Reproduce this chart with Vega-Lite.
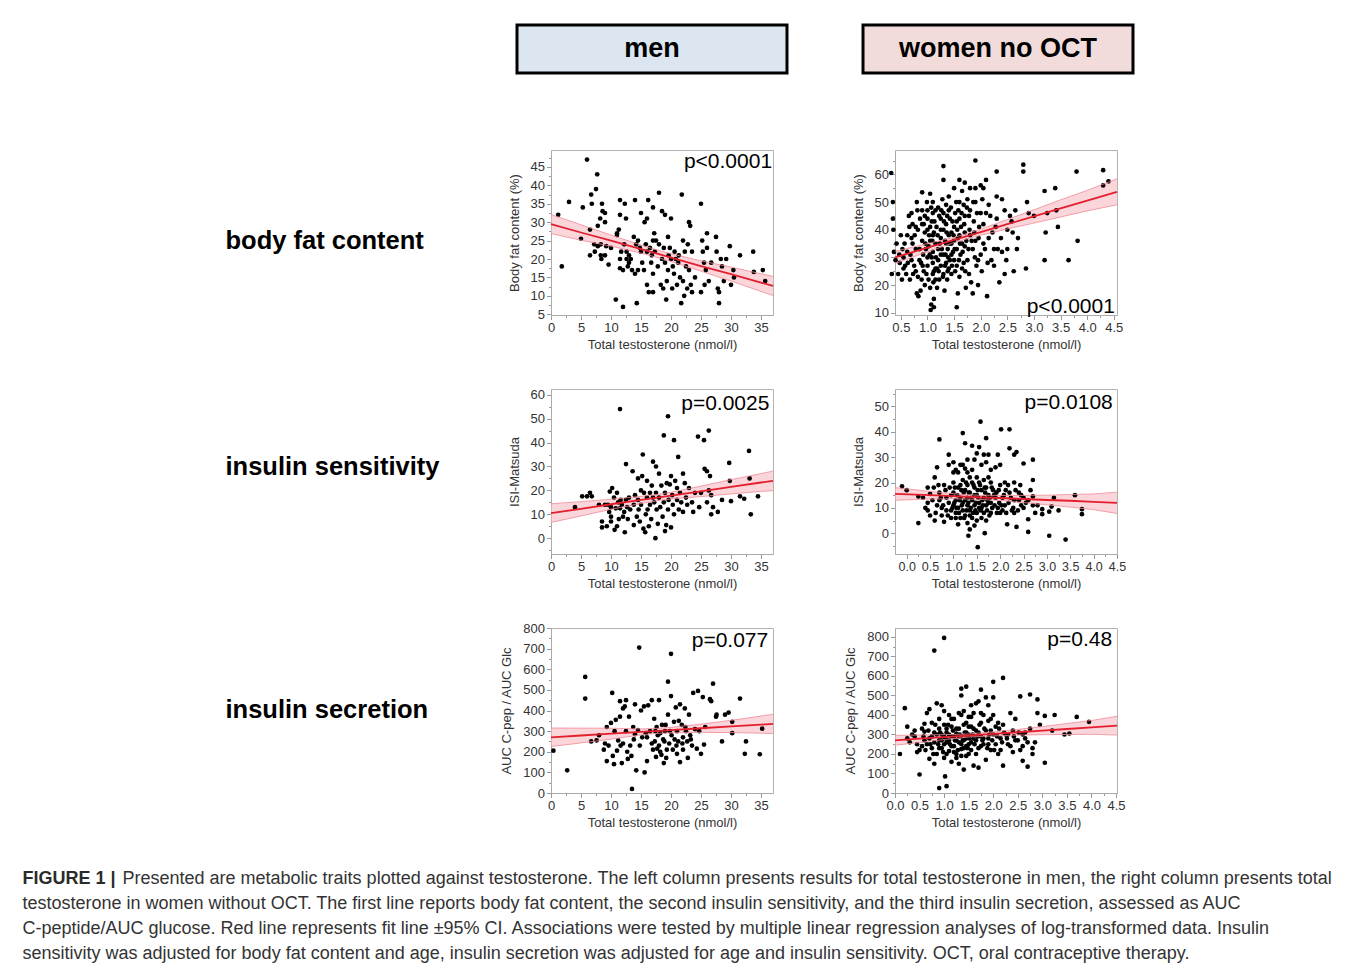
{
  "$schema": "https://vega.github.io/schema/vega-lite/v6.json",
  "padding": {"left": 22, "top": 23, "right": 4, "bottom": 2},
  "background": "white",
  "config": {
    "view": {"stroke": null},
    "font": "Liberation Sans",
    "text": {"font": "Liberation Sans"},
    "axis": {"labelFont": "Liberation Sans", "titleFont": "Liberation Sans", "labelFontSize": 13, "titleFontSize": 13, "titleFontWeight": "normal", "labelColor": "#333", "titleColor": "#333", "tickColor": "#999", "domainColor": "#aaa", "tickSize": 4.5, "labelPadding": 2, "grid": false, "labelOverlap": false, "labelFlush": false},
    "axisY": {"titlePadding": 9}
  },
  "datasets": {
    "p_mbf": [{"x":1.2,"y":32},{"x":1.8,"y":18},{"x":3,"y":35.5},{"x":5,"y":25.5},{"x":5.3,"y":34},{"x":6,"y":47},{"x":6.5,"y":28},{"x":6.7,"y":37.5},{"x":6.8,"y":35},{"x":6.5,"y":21},{"x":7.2,"y":24},{"x":7.3,"y":22},{"x":7.5,"y":39},{"x":7.7,"y":43},{"x":7.8,"y":29},{"x":7.8,"y":23.5},{"x":8.2,"y":31},{"x":8.3,"y":24},{"x":8.3,"y":21},{"x":8.4,"y":20},{"x":8.5,"y":35},{"x":8.6,"y":33},{"x":9,"y":32.5},{"x":9,"y":30},{"x":9,"y":21},{"x":9.2,"y":23.5},{"x":9.6,"y":18.5},{"x":10,"y":23},{"x":10.8,"y":9},{"x":11,"y":27},{"x":11,"y":26.5},{"x":11.3,"y":28},{"x":11.5,"y":36},{"x":11.5,"y":32},{"x":11.5,"y":17.5},{"x":11.5,"y":20},{"x":11.7,"y":22},{"x":12,"y":17},{"x":12,"y":7},{"x":12.2,"y":24},{"x":12.3,"y":35},{"x":12.5,"y":31},{"x":12.6,"y":22},{"x":12.6,"y":20},{"x":12.8,"y":18},{"x":13,"y":19},{"x":13,"y":21},{"x":13.3,"y":20},{"x":13.5,"y":17},{"x":13.8,"y":26},{"x":14,"y":36},{"x":14,"y":16},{"x":14.2,"y":24},{"x":14.3,"y":8},{"x":14.5,"y":25},{"x":14.5,"y":17},{"x":14.8,"y":23},{"x":15,"y":32.5},{"x":15,"y":22},{"x":15.2,"y":19},{"x":15.5,"y":17},{"x":15.6,"y":30},{"x":15.8,"y":24},{"x":16,"y":31},{"x":16,"y":22},{"x":16,"y":13},{"x":16.2,"y":36},{"x":16.3,"y":11},{"x":16.5,"y":23},{"x":16.7,"y":19},{"x":16.8,"y":21},{"x":17,"y":34},{"x":17,"y":25},{"x":17,"y":11},{"x":17,"y":16},{"x":17.2,"y":27},{"x":17.3,"y":22},{"x":17.5,"y":25},{"x":17.8,"y":18},{"x":18,"y":38},{"x":18,"y":24},{"x":18.3,"y":13},{"x":18.5,"y":33},{"x":18.5,"y":20},{"x":18.7,"y":12},{"x":18.8,"y":23},{"x":19,"y":32},{"x":19,"y":19},{"x":19.2,"y":9},{"x":19.3,"y":14},{"x":19.5,"y":26},{"x":19.5,"y":17},{"x":19.6,"y":21},{"x":19.8,"y":23},{"x":20,"y":31},{"x":20,"y":20},{"x":20.2,"y":12},{"x":20.3,"y":18},{"x":20.5,"y":16},{"x":20.6,"y":22},{"x":20.8,"y":20},{"x":21,"y":13},{"x":21.2,"y":19},{"x":21.3,"y":21},{"x":21.5,"y":15},{"x":21.7,"y":8},{"x":21.8,"y":37.5},{"x":22,"y":25},{"x":22,"y":14},{"x":22.2,"y":10},{"x":22.3,"y":22},{"x":22.5,"y":18},{"x":22.7,"y":12},{"x":22.8,"y":24},{"x":23,"y":30},{"x":23,"y":17},{"x":23.2,"y":29},{"x":23.3,"y":13},{"x":23.5,"y":11},{"x":23.5,"y":22},{"x":24,"y":15},{"x":25,"y":35},{"x":25,"y":11},{"x":25.2,"y":25},{"x":25.3,"y":22},{"x":25.5,"y":19},{"x":25.6,"y":13},{"x":25.8,"y":17},{"x":26,"y":27},{"x":26,"y":23},{"x":26.3,"y":14},{"x":26.7,"y":19},{"x":27.5,"y":26},{"x":27.6,"y":22},{"x":27.8,"y":12},{"x":28,"y":8},{"x":28,"y":11},{"x":28.3,"y":20},{"x":28.5,"y":18},{"x":28.8,"y":14},{"x":29.2,"y":20},{"x":29.8,"y":23.5},{"x":30,"y":13},{"x":30.4,"y":17},{"x":30.5,"y":15},{"x":31.5,"y":21},{"x":33.7,"y":22},{"x":33.8,"y":16.5},{"x":35.3,"y":17},{"x":35.7,"y":14}],
    "f_mbf": [{"x":0,"fit":29.5,"lo":26.9,"hi":32.1},{"x":5,"fit":27.2,"lo":25.1,"hi":29.3},{"x":10,"fit":25.0,"lo":23.5,"hi":26.5},{"x":15,"fit":22.7,"lo":21.6,"hi":23.8},{"x":18,"fit":21.3,"lo":20.3,"hi":22.3},{"x":20,"fit":20.4,"lo":19.35,"hi":21.45},{"x":25,"fit":18.1,"lo":16.7,"hi":19.5},{"x":30,"fit":15.9,"lo":14.0,"hi":17.8},{"x":35,"fit":13.6,"lo":11.2,"hi":16.0},{"x":37,"fit":12.7,"lo":10.1,"hi":15.3}],
    "p_wbf": [{"x":0.32,"y":60.5},{"x":0.35,"y":50},{"x":0.35,"y":44},{"x":0.36,"y":40},{"x":0.37,"y":32},{"x":0.33,"y":24},{"x":0.4,"y":29},{"x":0.45,"y":24},{"x":0.48,"y":28},{"x":0.5,"y":38},{"x":0.52,"y":22},{"x":0.55,"y":26},{"x":0.55,"y":30},{"x":0.6,"y":24},{"x":0.62,"y":32},{"x":0.65,"y":45},{"x":0.67,"y":22},{"x":0.7,"y":46},{"x":0.7,"y":37},{"x":0.7,"y":29},{"x":0.72,"y":35},{"x":0.75,"y":27},{"x":0.78,"y":41},{"x":0.78,"y":25},{"x":0.8,"y":50},{"x":0.8,"y":17},{"x":0.82,"y":40},{"x":0.82,"y":23},{"x":0.83,"y":16},{"x":0.85,"y":33},{"x":0.85,"y":29},{"x":0.87,"y":18},{"x":0.9,"y":53.5},{"x":0.9,"y":47},{"x":0.9,"y":42},{"x":0.9,"y":36},{"x":0.92,"y":31},{"x":0.93,"y":25},{"x":0.95,"y":20},{"x":0.95,"y":39},{"x":0.97,"y":33},{"x":1.0,"y":47},{"x":1.0,"y":44},{"x":1.0,"y":40},{"x":1.0,"y":30},{"x":1.0,"y":27},{"x":1.02,"y":22},{"x":1.05,"y":53},{"x":1.05,"y":36},{"x":1.05,"y":19},{"x":1.06,"y":11},{"x":1.07,"y":13},{"x":1.08,"y":43},{"x":1.1,"y":50},{"x":1.1,"y":46},{"x":1.1,"y":38},{"x":1.1,"y":32},{"x":1.1,"y":28},{"x":1.1,"y":24},{"x":1.12,"y":15},{"x":1.12,"y":12},{"x":1.15,"y":35},{"x":1.15,"y":26},{"x":1.17,"y":41},{"x":1.18,"y":19},{"x":1.2,"y":48},{"x":1.2,"y":33},{"x":1.2,"y":29},{"x":1.22,"y":22},{"x":1.25,"y":37},{"x":1.25,"y":44},{"x":1.25,"y":27},{"x":1.28,"y":51},{"x":1.3,"y":63},{"x":1.3,"y":58},{"x":1.3,"y":46},{"x":1.3,"y":40},{"x":1.3,"y":31},{"x":1.3,"y":24},{"x":1.32,"y":18},{"x":1.33,"y":36},{"x":1.35,"y":49},{"x":1.35,"y":42},{"x":1.35,"y":28},{"x":1.37,"y":22},{"x":1.38,"y":33},{"x":1.4,"y":52},{"x":1.4,"y":47},{"x":1.4,"y":38},{"x":1.4,"y":26},{"x":1.42,"y":44},{"x":1.45,"y":31},{"x":1.45,"y":35},{"x":1.45,"y":24},{"x":1.5,"y":55},{"x":1.5,"y":41},{"x":1.5,"y":36},{"x":1.5,"y":29},{"x":1.52,"y":46},{"x":1.55,"y":33},{"x":1.55,"y":27},{"x":1.55,"y":12},{"x":1.57,"y":17},{"x":1.6,"y":58},{"x":1.6,"y":50},{"x":1.6,"y":44},{"x":1.6,"y":38},{"x":1.6,"y":23},{"x":1.62,"y":31},{"x":1.65,"y":54},{"x":1.65,"y":26},{"x":1.7,"y":57},{"x":1.7,"y":45},{"x":1.7,"y":39},{"x":1.7,"y":34},{"x":1.72,"y":19},{"x":1.75,"y":29},{"x":1.75,"y":51},{"x":1.78,"y":24},{"x":1.8,"y":55},{"x":1.8,"y":47},{"x":1.8,"y":38},{"x":1.82,"y":21},{"x":1.85,"y":17},{"x":1.85,"y":33},{"x":1.87,"y":43},{"x":1.9,"y":65},{"x":1.9,"y":55},{"x":1.9,"y":50},{"x":1.9,"y":36},{"x":1.92,"y":27},{"x":1.95,"y":20},{"x":1.97,"y":41},{"x":2.0,"y":56},{"x":2.0,"y":46},{"x":2.0,"y":31},{"x":2.02,"y":25},{"x":2.05,"y":55},{"x":2.05,"y":35},{"x":2.1,"y":58},{"x":2.1,"y":46},{"x":2.12,"y":16},{"x":2.15,"y":37},{"x":2.2,"y":29},{"x":2.22,"y":39},{"x":2.25,"y":27},{"x":2.3,"y":61},{"x":2.3,"y":52},{"x":2.3,"y":44},{"x":2.32,"y":33},{"x":2.35,"y":21},{"x":2.4,"y":51},{"x":2.4,"y":32},{"x":2.45,"y":47},{"x":2.45,"y":24},{"x":2.5,"y":40},{"x":2.5,"y":33},{"x":2.55,"y":45},{"x":2.6,"y":39},{"x":2.62,"y":25},{"x":2.65,"y":47},{"x":2.7,"y":37},{"x":2.8,"y":63.5},{"x":2.8,"y":61},{"x":2.85,"y":26},{"x":2.87,"y":50},{"x":2.9,"y":46},{"x":3.0,"y":45},{"x":3.2,"y":54},{"x":3.2,"y":29},{"x":3.22,"y":39},{"x":3.25,"y":46},{"x":3.4,"y":55},{"x":3.42,"y":47},{"x":3.45,"y":41},{"x":3.65,"y":29},{"x":3.8,"y":61},{"x":3.82,"y":36},{"x":4.3,"y":61.5},{"x":4.3,"y":56},{"x":4.4,"y":57.5},{"x":1.02,"y":34},{"x":1.08,"y":30},{"x":1.12,"y":39},{"x":1.18,"y":26},{"x":1.22,"y":45},{"x":1.27,"y":33},{"x":1.33,"y":27},{"x":1.36,"y":39},{"x":1.42,"y":29},{"x":1.47,"y":43},{"x":1.52,"y":25},{"x":1.57,"y":37},{"x":1.63,"y":41},{"x":1.68,"y":28},{"x":1.73,"y":36},{"x":1.78,"y":45},{"x":0.98,"y":24},{"x":0.88,"y":28},{"x":0.78,"y":33},{"x":0.68,"y":31},{"x":0.58,"y":27},{"x":1.15,"y":22},{"x":1.25,"y":31},{"x":1.35,"y":35},{"x":1.45,"y":39},{"x":1.55,"y":43},{"x":1.65,"y":35},{"x":1.25,"y":40},{"x":1.05,"y":41},{"x":1.15,"y":47},{"x":0.95,"y":45},{"x":1.38,"y":25},{"x":1.48,"y":32},{"x":1.58,"y":47},{"x":1.68,"y":49},{"x":1.88,"y":39},{"x":1.95,"y":29},{"x":2.05,"y":42},{"x":2.15,"y":49},{"x":2.25,"y":33},{"x":1.12,"y":25},{"x":0.62,"y":38},{"x":0.53,"y":33},{"x":0.72,"y":42},{"x":0.42,"y":35},{"x":0.47,"y":31},{"x":0.57,"y":35},{"x":0.63,"y":28},{"x":0.66,"y":41},{"x":0.73,"y":24},{"x":0.76,"y":38},{"x":0.86,"y":44},{"x":0.89,"y":22},{"x":0.91,"y":27},{"x":0.96,"y":35},{"x":0.99,"y":50},{"x":1.03,"y":38},{"x":1.04,"y":31},{"x":1.09,"y":36},{"x":1.11,"y":21},{"x":1.13,"y":43},{"x":1.16,"y":30},{"x":1.19,"y":38},{"x":1.21,"y":25},{"x":1.23,"y":35},{"x":1.26,"y":47},{"x":1.29,"y":23},{"x":1.31,"y":43},{"x":1.34,"y":31},{"x":1.37,"y":45},{"x":1.39,"y":30},{"x":1.41,"y":35},{"x":1.44,"y":48},{"x":1.46,"y":27},{"x":1.49,"y":38},{"x":1.51,"y":33},{"x":1.54,"y":50},{"x":1.56,"y":40},{"x":1.59,"y":29},{"x":1.61,"y":35},{"x":1.64,"y":46},{"x":1.66,"y":32},{"x":1.69,"y":42},{"x":1.71,"y":25},{"x":1.74,"y":48},{"x":1.77,"y":33},{"x":1.79,"y":40},{"x":1.83,"y":36},{"x":1.86,"y":50},{"x":1.89,"y":30},{"x":1.93,"y":46},{"x":1.96,"y":37},{"x":2.03,"y":51},{"x":2.08,"y":33},{"x":2.13,"y":28},{"x":2.18,"y":45},{"x":2.28,"y":41},{"x":2.38,"y":37},{"x":2.48,"y":29},{"x":2.58,"y":43},{"x":2.68,"y":33},{"x":0.81,"y":47},{"x":0.93,"y":42},{"x":1.07,"y":48}],
    "f_wbf": [{"x":0.39,"fit":30.0,"lo":27.8,"hi":32.2},{"x":1.0,"fit":33.5,"lo":32.0,"hi":35.0},{"x":1.5,"fit":36.3,"lo":35.4,"hi":37.2},{"x":2.0,"fit":39.1,"lo":38.0,"hi":40.2},{"x":2.5,"fit":42.0,"lo":40.3,"hi":43.7},{"x":3.0,"fit":44.8,"lo":42.4,"hi":47.2},{"x":3.5,"fit":47.7,"lo":44.6,"hi":50.8},{"x":4.0,"fit":50.5,"lo":46.8,"hi":54.2},{"x":4.56,"fit":53.7,"lo":49.0,"hi":58.4}],
    "p_mis": [{"x":4,"y":13},{"x":5.2,"y":17.5},{"x":6,"y":17.5},{"x":6.5,"y":19},{"x":6.8,"y":17.5},{"x":8,"y":14},{"x":8.5,"y":7},{"x":8.5,"y":4.5},{"x":9,"y":14},{"x":9.3,"y":5},{"x":9.5,"y":14},{"x":9.7,"y":11},{"x":9.8,"y":19.5},{"x":10,"y":7},{"x":10,"y":9},{"x":10,"y":13},{"x":10.2,"y":21},{"x":10.5,"y":17},{"x":10.6,"y":3.5},{"x":10.8,"y":12.5},{"x":11,"y":19},{"x":11,"y":5},{"x":11.2,"y":15},{"x":11.3,"y":8},{"x":11.5,"y":54},{"x":11.5,"y":12.5},{"x":11.6,"y":16},{"x":11.8,"y":14},{"x":12,"y":9},{"x":12.2,"y":11},{"x":12.3,"y":2.5},{"x":12.5,"y":31},{"x":12.5,"y":16},{"x":12.7,"y":13},{"x":12.8,"y":8},{"x":13,"y":17},{"x":13.2,"y":12},{"x":13.6,"y":28},{"x":13.8,"y":14},{"x":13.8,"y":5.5},{"x":14,"y":18},{"x":14.3,"y":9},{"x":14.5,"y":25},{"x":14.5,"y":16},{"x":14.6,"y":12},{"x":14.8,"y":7},{"x":15,"y":20},{"x":15,"y":14},{"x":15.2,"y":26},{"x":15.3,"y":35},{"x":15.4,"y":4},{"x":15.5,"y":19},{"x":15.7,"y":2.5},{"x":15.8,"y":10},{"x":16,"y":24},{"x":16,"y":17},{"x":16.1,"y":12},{"x":16.3,"y":5},{"x":16.5,"y":19},{"x":16.5,"y":14},{"x":16.7,"y":8},{"x":16.8,"y":22},{"x":17,"y":32},{"x":17,"y":17},{"x":17.2,"y":15},{"x":17.4,"y":0},{"x":17.5,"y":30},{"x":17.5,"y":19},{"x":17.6,"y":12},{"x":17.8,"y":6},{"x":18,"y":27},{"x":18,"y":17},{"x":18.2,"y":13},{"x":18.4,"y":22},{"x":18.6,"y":9},{"x":18.8,"y":43},{"x":18.8,"y":15},{"x":19,"y":3},{"x":19,"y":19},{"x":19.2,"y":5.5},{"x":19.3,"y":23},{"x":19.5,"y":51},{"x":19.5,"y":12},{"x":19.6,"y":16},{"x":19.8,"y":22.5},{"x":20,"y":26},{"x":20,"y":4.5},{"x":20.2,"y":18},{"x":20.3,"y":14},{"x":20.5,"y":41},{"x":20.5,"y":10},{"x":20.7,"y":24},{"x":21,"y":21},{"x":21,"y":16},{"x":21.2,"y":34},{"x":21.3,"y":12},{"x":21.5,"y":19},{"x":21.7,"y":15},{"x":22,"y":27},{"x":22,"y":11},{"x":22.3,"y":23},{"x":22.5,"y":17},{"x":22.7,"y":14},{"x":23,"y":21},{"x":23.5,"y":15},{"x":23.7,"y":11},{"x":24,"y":19},{"x":24.5,"y":42.5},{"x":24.7,"y":13},{"x":25,"y":19},{"x":25.5,"y":41},{"x":25.6,"y":29},{"x":26,"y":28},{"x":26,"y":15},{"x":26.3,"y":45},{"x":26.3,"y":20},{"x":26.5,"y":26},{"x":26.7,"y":18},{"x":26.7,"y":10},{"x":27,"y":13},{"x":27.8,"y":11},{"x":28.5,"y":16},{"x":29.7,"y":31.5},{"x":29.8,"y":24},{"x":30,"y":15.5},{"x":31.5,"y":17.5},{"x":32.2,"y":16.5},{"x":33,"y":36.5},{"x":33.1,"y":25},{"x":33.3,"y":10},{"x":34.5,"y":17.5}],
    "f_mis": [{"x":0,"fit":10.5,"lo":6.6,"hi":14.4},{"x":5,"fit":12.3,"lo":9.3,"hi":15.3},{"x":10,"fit":14.2,"lo":12.1,"hi":16.3},{"x":15,"fit":16.0,"lo":14.5,"hi":17.5},{"x":18,"fit":17.1,"lo":15.8,"hi":18.4},{"x":20,"fit":17.8,"lo":16.4,"hi":19.2},{"x":25,"fit":19.6,"lo":17.4,"hi":21.8},{"x":30,"fit":21.5,"lo":18.5,"hi":24.5},{"x":35,"fit":23.3,"lo":19.6,"hi":27.0},{"x":37,"fit":24.0,"lo":19.9,"hi":28.1}],
    "p_wis": [{"x":-0.1,"y":18.5},{"x":0,"y":17},{"x":0.25,"y":14.5},{"x":0.25,"y":4},{"x":0.45,"y":18},{"x":0.45,"y":12},{"x":0.45,"y":9},{"x":0.5,"y":15.5},{"x":0.5,"y":7},{"x":0.6,"y":22},{"x":0.6,"y":5},{"x":0.65,"y":26},{"x":0.7,"y":37},{"x":0.7,"y":16},{"x":0.7,"y":13},{"x":0.75,"y":10},{"x":0.75,"y":7},{"x":0.8,"y":4.5},{"x":0.8,"y":19},{"x":0.85,"y":14},{"x":0.9,"y":27},{"x":0.9,"y":31},{"x":0.9,"y":12},{"x":0.95,"y":9},{"x":0.95,"y":6},{"x":1.0,"y":28},{"x":1.0,"y":20},{"x":1.0,"y":16},{"x":1.0,"y":11},{"x":1.05,"y":25},{"x":1.05,"y":13},{"x":1.05,"y":8},{"x":1.1,"y":24},{"x":1.1,"y":18},{"x":1.1,"y":10},{"x":1.1,"y":3.5},{"x":1.15,"y":27},{"x":1.15,"y":14},{"x":1.15,"y":6},{"x":1.2,"y":39.5},{"x":1.2,"y":21},{"x":1.2,"y":12},{"x":1.2,"y":9},{"x":1.25,"y":35.5},{"x":1.25,"y":17},{"x":1.25,"y":25.5},{"x":1.25,"y":7},{"x":1.3,"y":29},{"x":1.3,"y":19},{"x":1.3,"y":14},{"x":1.3,"y":11},{"x":1.3,"y":4},{"x":1.32,"y":-1},{"x":1.35,"y":22},{"x":1.35,"y":16},{"x":1.35,"y":9},{"x":1.35,"y":1.5},{"x":1.4,"y":34.5},{"x":1.4,"y":20},{"x":1.4,"y":13},{"x":1.4,"y":6},{"x":1.45,"y":29},{"x":1.45,"y":18},{"x":1.45,"y":11},{"x":1.45,"y":3},{"x":1.5,"y":31.5},{"x":1.5,"y":22},{"x":1.5,"y":15},{"x":1.5,"y":8},{"x":1.5,"y":5},{"x":1.52,"y":-5.5},{"x":1.55,"y":34},{"x":1.55,"y":20},{"x":1.55,"y":12},{"x":1.58,"y":44},{"x":1.6,"y":17},{"x":1.6,"y":10},{"x":1.6,"y":6},{"x":1.65,"y":31},{"x":1.65,"y":21},{"x":1.65,"y":14},{"x":1.67,"y":0},{"x":1.7,"y":37.5},{"x":1.7,"y":18},{"x":1.7,"y":11},{"x":1.7,"y":5},{"x":1.75,"y":31},{"x":1.75,"y":22},{"x":1.75,"y":15},{"x":1.8,"y":20},{"x":1.8,"y":12},{"x":1.8,"y":8},{"x":1.85,"y":17},{"x":1.9,"y":26},{"x":1.9,"y":14},{"x":1.95,"y":31},{"x":1.95,"y":10},{"x":2.0,"y":19},{"x":2.0,"y":8},{"x":2.02,"y":41},{"x":2.05,"y":14},{"x":2.1,"y":20},{"x":2.1,"y":11},{"x":2.15,"y":3.5},{"x":2.2,"y":41},{"x":2.2,"y":33.5},{"x":2.2,"y":16},{"x":2.25,"y":9},{"x":2.3,"y":31},{"x":2.3,"y":20},{"x":2.3,"y":13},{"x":2.35,"y":2.5},{"x":2.35,"y":32},{"x":2.4,"y":16},{"x":2.45,"y":11},{"x":2.45,"y":15},{"x":2.5,"y":27.5},{"x":2.5,"y":14},{"x":2.6,"y":13},{"x":2.6,"y":5.5},{"x":2.6,"y":0.5},{"x":2.7,"y":29},{"x":2.7,"y":21},{"x":2.7,"y":14.5},{"x":2.7,"y":11},{"x":2.75,"y":8},{"x":2.8,"y":11},{"x":2.9,"y":9.5},{"x":2.9,"y":7.5},{"x":3.05,"y":8.5},{"x":3.05,"y":-1},{"x":3.1,"y":10.5},{"x":3.15,"y":14},{"x":3.25,"y":9},{"x":3.4,"y":-2.5},{"x":3.6,"y":15},{"x":3.75,"y":9.5},{"x":3.75,"y":7.5},{"x":1.02,"y":12},{"x":1.08,"y":15},{"x":1.12,"y":8},{"x":1.18,"y":11},{"x":1.22,"y":16},{"x":1.28,"y":9},{"x":1.32,"y":12},{"x":1.38,"y":14},{"x":1.42,"y":8},{"x":1.48,"y":12},{"x":1.52,"y":17},{"x":1.58,"y":9},{"x":1.62,"y":13},{"x":1.68,"y":16},{"x":1.72,"y":9},{"x":1.78,"y":14},{"x":1.82,"y":18},{"x":1.88,"y":11},{"x":1.92,"y":16},{"x":1.98,"y":12},{"x":2.05,"y":9},{"x":2.12,"y":17},{"x":2.18,"y":12},{"x":1.15,"y":19},{"x":1.25,"y":13},{"x":1.35,"y":7},{"x":1.45,"y":15},{"x":1.55,"y":10},{"x":1.65,"y":8},{"x":1.75,"y":12},{"x":0.85,"y":9},{"x":0.95,"y":15},{"x":0.65,"y":11},{"x":0.55,"y":13},{"x":2.4,"y":13},{"x":2.5,"y":10},{"x":2.3,"y":8},{"x":1.05,"y":6},{"x":0.35,"y":14},{"x":0.4,"y":10},{"x":0.58,"y":18},{"x":0.62,"y":8},{"x":0.68,"y":19},{"x":0.73,"y":14},{"x":0.78,"y":11},{"x":0.83,"y":17},{"x":0.88,"y":7},{"x":0.92,"y":18},{"x":0.98,"y":10},{"x":1.03,"y":18},{"x":1.07,"y":10},{"x":1.13,"y":13},{"x":1.17,"y":17},{"x":1.23,"y":6},{"x":1.27,"y":20},{"x":1.33,"y":16},{"x":1.37,"y":10},{"x":1.43,"y":19},{"x":1.47,"y":9},{"x":1.53,"y":14},{"x":1.57,"y":19},{"x":1.63,"y":11},{"x":1.67,"y":18},{"x":1.73,"y":13},{"x":1.77,"y":7},{"x":1.83,"y":10},{"x":1.87,"y":15},{"x":1.93,"y":8},{"x":1.97,"y":17},{"x":2.03,"y":11},{"x":2.08,"y":15},{"x":2.13,"y":8},{"x":2.17,"y":19},{"x":2.23,"y":14},{"x":2.28,"y":10},{"x":2.33,"y":17},{"x":2.38,"y":9},{"x":2.43,"y":19},{"x":2.55,"y":12},{"x":2.65,"y":17},{"x":1.2,"y":27},{"x":1.4,"y":25},{"x":1.6,"y":27},{"x":1.8,"y":25},{"x":2.0,"y":27},{"x":1.0,"y":24},{"x":1.3,"y":24},{"x":1.7,"y":28}],
    "f_wis": [{"x":-0.25,"fit":15.5,"lo":13.0,"hi":18.0},{"x":0.5,"fit":15.0,"lo":13.5,"hi":16.5},{"x":1.0,"fit":14.6,"lo":13.6,"hi":15.6},{"x":1.5,"fit":14.2,"lo":13.4,"hi":15.0},{"x":2.0,"fit":13.9,"lo":12.9,"hi":14.9},{"x":2.5,"fit":13.5,"lo":12.1,"hi":14.9},{"x":3.0,"fit":13.1,"lo":11.2,"hi":15.0},{"x":3.5,"fit":12.8,"lo":10.3,"hi":15.3},{"x":4.0,"fit":12.4,"lo":9.3,"hi":15.5},{"x":4.5,"fit":12.0,"lo":7.8,"hi":16.2}],
    "p_mau": [{"x":0.4,"y":205},{"x":2.7,"y":110},{"x":5.7,"y":563},{"x":5.7,"y":458},{"x":6.7,"y":250},{"x":7.6,"y":255},{"x":8,"y":280},{"x":8.8,"y":210},{"x":9,"y":240},{"x":9.3,"y":320},{"x":9.3,"y":155},{"x":9.6,"y":230},{"x":10,"y":340},{"x":10.2,"y":485},{"x":10.3,"y":180},{"x":10.5,"y":140},{"x":10.6,"y":300},{"x":10.8,"y":355},{"x":11,"y":205},{"x":11.2,"y":255},{"x":11.5,"y":445},{"x":11.5,"y":370},{"x":11.6,"y":230},{"x":11.8,"y":145},{"x":12,"y":410},{"x":12,"y":240},{"x":12.3,"y":420},{"x":12.5,"y":450},{"x":12.5,"y":300},{"x":12.7,"y":200},{"x":12.8,"y":165},{"x":13,"y":370},{"x":13.2,"y":230},{"x":13.4,"y":180},{"x":13.5,"y":20},{"x":13.7,"y":320},{"x":13.8,"y":260},{"x":14,"y":430},{"x":14,"y":285},{"x":14.2,"y":110},{"x":14.5,"y":305},{"x":14.7,"y":705},{"x":14.8,"y":230},{"x":15,"y":400},{"x":15.2,"y":270},{"x":15.5,"y":420},{"x":15.6,"y":100},{"x":15.8,"y":290},{"x":16,"y":155},{"x":16.2,"y":425},{"x":16.5,"y":300},{"x":16.8,"y":450},{"x":17,"y":210},{"x":17.2,"y":360},{"x":17.3,"y":250},{"x":17.5,"y":175},{"x":17.6,"y":320},{"x":17.8,"y":280},{"x":18,"y":450},{"x":18,"y":230},{"x":18.2,"y":200},{"x":18.5,"y":330},{"x":18.7,"y":260},{"x":18.8,"y":145},{"x":19,"y":300},{"x":19.2,"y":170},{"x":19.5,"y":540},{"x":19.5,"y":380},{"x":19.7,"y":240},{"x":20,"y":675},{"x":20,"y":470},{"x":20.1,"y":280},{"x":20.3,"y":210},{"x":20.5,"y":345},{"x":20.8,"y":415},{"x":21,"y":300},{"x":21,"y":190},{"x":21.2,"y":250},{"x":21.5,"y":430},{"x":21.5,"y":150},{"x":21.8,"y":330},{"x":22,"y":270},{"x":22,"y":210},{"x":22.3,"y":410},{"x":22.5,"y":300},{"x":22.7,"y":250},{"x":22.8,"y":170},{"x":23,"y":380},{"x":23.2,"y":280},{"x":23.5,"y":230},{"x":23.7,"y":485},{"x":24,"y":310},{"x":24.3,"y":215},{"x":24.5,"y":495},{"x":24.7,"y":300},{"x":25,"y":190},{"x":25.3,"y":465},{"x":25.5,"y":235},{"x":25.7,"y":320},{"x":26.5,"y":455},{"x":26.7,"y":445},{"x":27,"y":530},{"x":27.5,"y":370},{"x":27.6,"y":380},{"x":28.5,"y":250},{"x":29,"y":380},{"x":29.6,"y":390},{"x":30.2,"y":345},{"x":30.2,"y":290},{"x":31.5,"y":458},{"x":32.3,"y":190},{"x":32.5,"y":250},{"x":34.8,"y":188},{"x":35.2,"y":312},{"x":16,"y":270},{"x":16.8,"y":240},{"x":17.4,"y":300},{"x":18.2,"y":290},{"x":18.9,"y":250},{"x":19.3,"y":210},{"x":19.8,"y":300},{"x":20.6,"y":260},{"x":21.3,"y":350},{"x":21.9,"y":240},{"x":22.4,"y":320},{"x":23.3,"y":260},{"x":17.7,"y":215},{"x":18.4,"y":185},{"x":19.1,"y":330},{"x":20.9,"y":230}],
    "f_mau": [{"x":0,"fit":270,"lo":225,"hi":315},{"x":5,"fit":278.8,"lo":243,"hi":314.6},{"x":10,"fit":287.6,"lo":261,"hi":314.2},{"x":15,"fit":296.4,"lo":282,"hi":310.8},{"x":18,"fit":301.6,"lo":289.6,"hi":313.6},{"x":20,"fit":305.1,"lo":292,"hi":318.2},{"x":25,"fit":313.9,"lo":294,"hi":333.8},{"x":30,"fit":322.7,"lo":293,"hi":352.4},{"x":35,"fit":331.5,"lo":290,"hi":373},{"x":37,"fit":335,"lo":288,"hi":382}],
    "p_wau": [{"x":0.1,"y":200},{"x":0.2,"y":435},{"x":0.25,"y":340},{"x":0.25,"y":280},{"x":0.35,"y":300},{"x":0.4,"y":290},{"x":0.45,"y":210},{"x":0.5,"y":220},{"x":0.5,"y":95},{"x":0.55,"y":330},{"x":0.6,"y":355},{"x":0.6,"y":315},{"x":0.65,"y":410},{"x":0.65,"y":250},{"x":0.7,"y":430},{"x":0.7,"y":280},{"x":0.7,"y":175},{"x":0.75,"y":360},{"x":0.75,"y":230},{"x":0.8,"y":730},{"x":0.8,"y":310},{"x":0.8,"y":260},{"x":0.8,"y":150},{"x":0.85,"y":460},{"x":0.85,"y":200},{"x":0.9,"y":380},{"x":0.9,"y":330},{"x":0.9,"y":270},{"x":0.9,"y":25},{"x":0.95,"y":450},{"x":0.95,"y":300},{"x":0.95,"y":230},{"x":1.0,"y":795},{"x":1.0,"y":420},{"x":1.0,"y":350},{"x":1.0,"y":250},{"x":1.0,"y":180},{"x":1.02,"y":85},{"x":1.05,"y":310},{"x":1.05,"y":35},{"x":1.1,"y":400},{"x":1.1,"y":270},{"x":1.1,"y":215},{"x":1.15,"y":340},{"x":1.15,"y":160},{"x":1.2,"y":380},{"x":1.2,"y":290},{"x":1.2,"y":240},{"x":1.25,"y":305},{"x":1.25,"y":200},{"x":1.3,"y":410},{"x":1.3,"y":330},{"x":1.3,"y":260},{"x":1.3,"y":150},{"x":1.35,"y":535},{"x":1.35,"y":500},{"x":1.35,"y":290},{"x":1.35,"y":225},{"x":1.4,"y":420},{"x":1.4,"y":350},{"x":1.4,"y":270},{"x":1.4,"y":120},{"x":1.45,"y":545},{"x":1.45,"y":310},{"x":1.45,"y":240},{"x":1.5,"y":390},{"x":1.5,"y":300},{"x":1.5,"y":200},{"x":1.55,"y":450},{"x":1.55,"y":340},{"x":1.55,"y":260},{"x":1.6,"y":410},{"x":1.6,"y":280},{"x":1.6,"y":140},{"x":1.65,"y":320},{"x":1.65,"y":460},{"x":1.7,"y":470},{"x":1.7,"y":230},{"x":1.7,"y":130},{"x":1.75,"y":530},{"x":1.75,"y":360},{"x":1.75,"y":290},{"x":1.8,"y":400},{"x":1.8,"y":250},{"x":1.85,"y":490},{"x":1.85,"y":320},{"x":1.85,"y":170},{"x":1.9,"y":450},{"x":1.9,"y":370},{"x":1.9,"y":280},{"x":1.95,"y":220},{"x":2.0,"y":570},{"x":2.0,"y":490},{"x":2.0,"y":400},{"x":2.0,"y":300},{"x":2.05,"y":250},{"x":2.1,"y":360},{"x":2.1,"y":200},{"x":2.15,"y":280},{"x":2.2,"y":590},{"x":2.2,"y":350},{"x":2.2,"y":140},{"x":2.25,"y":300},{"x":2.3,"y":250},{"x":2.35,"y":410},{"x":2.4,"y":320},{"x":2.4,"y":210},{"x":2.45,"y":380},{"x":2.5,"y":270},{"x":2.55,"y":495},{"x":2.55,"y":220},{"x":2.6,"y":300},{"x":2.6,"y":165},{"x":2.65,"y":310},{"x":2.7,"y":260},{"x":2.7,"y":135},{"x":2.75,"y":505},{"x":2.75,"y":330},{"x":2.8,"y":230},{"x":2.8,"y":200},{"x":2.9,"y":480},{"x":2.9,"y":410},{"x":2.95,"y":350},{"x":3.05,"y":395},{"x":3.05,"y":155},{"x":3.2,"y":320},{"x":3.25,"y":400},{"x":3.45,"y":300},{"x":3.55,"y":305},{"x":3.7,"y":390},{"x":3.95,"y":365},{"x":1.05,"y":260},{"x":1.15,"y":290},{"x":1.25,"y":270},{"x":1.45,"y":280},{"x":1.55,"y":220},{"x":1.65,"y":270},{"x":1.05,"y":330},{"x":0.95,"y":270},{"x":1.35,"y":250},{"x":1.75,"y":240},{"x":1.95,"y":320},{"x":1.15,"y":240},{"x":1.25,"y":330},{"x":1.5,"y":250},{"x":1.6,"y":330},{"x":0.85,"y":300},{"x":0.75,"y":290},{"x":1.1,"y":300},{"x":1.2,"y":210},{"x":1.3,"y":290},{"x":1.4,"y":230},{"x":1.5,"y":340},{"x":1.7,"y":310},{"x":1.8,"y":280},{"x":1.9,"y":250},{"x":2.05,"y":340},{"x":2.15,"y":220},{"x":1.0,"y":290},{"x":0.9,"y":230},{"x":0.6,"y":270},{"x":0.55,"y":240},{"x":1.45,"y":360},{"x":1.35,"y":190},{"x":1.65,"y":200},{"x":1.25,"y":180},{"x":2.3,"y":300},{"x":2.45,"y":270},{"x":2.6,"y":240},{"x":0.3,"y":260},{"x":0.4,"y":320},{"x":0.45,"y":250},{"x":0.58,"y":290},{"x":0.62,"y":220},{"x":0.68,"y":320},{"x":0.72,"y":250},{"x":0.78,"y":200},{"x":0.82,"y":350},{"x":0.88,"y":250},{"x":0.92,"y":310},{"x":0.98,"y":210},{"x":1.03,"y":280},{"x":1.08,"y":350},{"x":1.12,"y":250},{"x":1.18,"y":320},{"x":1.22,"y":270},{"x":1.28,"y":220},{"x":1.32,"y":300},{"x":1.38,"y":270},{"x":1.42,"y":310},{"x":1.48,"y":230},{"x":1.52,"y":280},{"x":1.58,"y":300},{"x":1.62,"y":250},{"x":1.68,"y":290},{"x":1.72,"y":350},{"x":1.78,"y":270},{"x":1.82,"y":330},{"x":1.88,"y":230},{"x":1.92,"y":300},{"x":1.98,"y":270},{"x":2.02,"y":220},{"x":2.08,"y":290},{"x":2.12,"y":330},{"x":2.18,"y":260},{"x":2.22,"y":310},{"x":2.28,"y":280},{"x":2.35,"y":240},{"x":2.42,"y":290},{"x":2.52,"y":310},{"x":2.65,"y":280},{"x":2.85,"y":260},{"x":1.15,"y":380},{"x":1.35,"y":400},{"x":1.55,"y":390},{"x":1.75,"y":410},{"x":1.95,"y":380},{"x":1.05,"y":200},{"x":1.45,"y":190}],
    "f_wau": [{"x":0,"fit":270,"lo":245,"hi":295},{"x":0.5,"fit":278.3,"lo":259,"hi":297.6},{"x":1.0,"fit":286.6,"lo":274,"hi":299.2},{"x":1.5,"fit":294.9,"lo":287,"hi":302.8},{"x":2.0,"fit":303.2,"lo":293,"hi":313.4},{"x":2.5,"fit":311.5,"lo":297,"hi":326},{"x":3.0,"fit":319.8,"lo":299,"hi":340.6},{"x":3.5,"fit":328.1,"lo":300,"hi":356.2},{"x":4.0,"fit":336.4,"lo":301,"hi":371.8},{"x":4.52,"fit":345,"lo":297,"hi":393}],
    "cap": [{"line":1,"t":"Presented are metabolic traits plotted against testosterone. The left column presents results for total testosterone in men, the right column presents total"},{"line":2,"t":"testosterone in women without OCT. The first line reports body fat content, the second insulin sensitivity, and the third insulin secretion, assessed as AUC"},{"line":3,"t":"C-peptide/AUC glucose. Red line represents fit line ±95% CI. Associations were tested by multiple linear regression analyses of log-transformed data. Insulin"},{"line":4,"t":"sensitivity was adjusted for body fat content and age, insulin secretion was adjusted for age and insulin sensitivity. OCT, oral contraceptive therapy."}],
    "hdr": [{"group":"men"},{"group":"women no OCT"}]
  },
  "spacing": 74,
  "vconcat": [
    {"bounds": "flush", "spacing": 122,
     "hconcat": [
      {"width": 373, "height": 48, "data": {"values": [{}]}, "mark": "text", "encoding": {"text": {"value": ""}}},
      {"width": 616, "height": 48, "data": {"name": "hdr"},
       "layer": [
         {"mark": {"type": "rect", "stroke": "black", "strokeWidth": 3}, "encoding": {"x": {"field": "group", "type": "nominal", "axis": null, "scale": {"type": "band", "paddingInner": 0.2197, "paddingOuter": 0}}, "color": {"field": "group", "type": "nominal", "legend": null, "scale": {"range": ["#dce6f1", "#f2dcdb"]}}}},
         {"mark": {"type": "text", "fontSize": 27, "fontWeight": "bold", "color": "black"}, "encoding": {"x": {"field": "group", "type": "nominal", "axis": null}, "text": {"field": "group"}}}
       ]}
     ]},
    {"columns": 3, "bounds": "flush", "align": "each", "spacing": {"row": 74, "column": 122},
     "concat": [
      {"width": 407, "height": 165, "data": {"values": [{"t": "body fat content"}]}, "mark": {"type": "text", "align": "left", "fontSize": 25.5, "fontWeight": "bold", "color": "black", "dy": 8.5}, "encoding": {"text": {"field": "t"}}},
      {"width": 222, "height": 165, "view": {"stroke": "#b3b3b3"}, "resolve": {"axis": {"x": "independent", "y": "independent"}},
       "layer": [
         {"data": {"name": "f_mbf"}, "mark": {"type": "area", "color": "#f6b3bb", "opacity": 0.55}, "encoding": {"x": {"field": "x", "type": "quantitative", "axis": {"orient": "bottom", "values": [2.5,7.5,12.5,17.5,22.5,27.5,32.5], "labels": false, "domain": false, "title": null, "tickSize": 2.5, "tickCount": 50}}, "y": {"field": "lo", "type": "quantitative", "axis": {"orient": "left", "values": [7.5,12.5,17.5,22.5,27.5,32.5,37.5,42.5,47.5], "labels": false, "domain": false, "title": null, "tickSize": 2.5, "tickCount": 50}}, "y2": {"field": "hi"}}},
         {"data": {"name": "p_mbf"}, "mark": {"type": "circle", "color": "black", "size": 22, "opacity": 1}, "encoding": {"x": {"field": "x", "type": "quantitative", "scale": {"domain": [0, 37], "nice": false, "zero": false}, "axis": {"orient": "bottom", "title": "Total testosterone (nmol/l)", "values": [0,5,10,15,20,25,30,35], "tickCount": 50}}, "y": {"field": "y", "type": "quantitative", "scale": {"domain": [4.8, 49.6], "nice": false, "zero": false}, "axis": {"orient": "left", "title": "Body fat content (%)", "values": [5,10,15,20,25,30,35,40,45], "tickCount": 50}}}},
         {"data": {"name": "f_mbf"}, "mark": {"type": "line", "color": "#f08c98", "strokeWidth": 0.8}, "encoding": {"x": {"field": "x", "type": "quantitative", "axis": null}, "y": {"field": "lo", "type": "quantitative", "axis": null}}},
         {"data": {"name": "f_mbf"}, "mark": {"type": "line", "color": "#f08c98", "strokeWidth": 0.8}, "encoding": {"x": {"field": "x", "type": "quantitative", "axis": null}, "y": {"field": "hi", "type": "quantitative", "axis": null}}},
         {"data": {"name": "f_mbf"}, "mark": {"type": "line", "color": "#e41f2d", "strokeWidth": 1.8}, "encoding": {"x": {"field": "x", "type": "quantitative", "axis": null}, "y": {"field": "fit", "type": "quantitative", "axis": null}}},
         {"data": {"values": [{}]}, "mark": {"type": "text", "align": "right", "baseline": "top", "fontSize": 21, "color": "black"}, "encoding": {"x": {"datum": 36.85, "type": "quantitative", "axis": null}, "y": {"datum": 49.3, "type": "quantitative", "axis": null}, "text": {"value": "p<0.0001"}}}
       ]},
      {"width": 222, "height": 165, "view": {"stroke": "#b3b3b3"}, "resolve": {"axis": {"x": "independent", "y": "independent"}},
       "layer": [
         {"data": {"name": "f_wbf"}, "mark": {"type": "area", "color": "#f6b3bb", "opacity": 0.55}, "encoding": {"x": {"field": "x", "type": "quantitative", "axis": {"orient": "bottom", "values": [0.75,1.25,1.75,2.25,2.75,3.25,3.75,4.25], "labels": false, "domain": false, "title": null, "tickSize": 2.5, "tickCount": 50}}, "y": {"field": "lo", "type": "quantitative", "axis": {"orient": "left", "values": [15,25,35,45,55,65], "labels": false, "domain": false, "title": null, "tickSize": 2.5, "tickCount": 50}}, "y2": {"field": "hi"}}},
         {"data": {"name": "p_wbf"}, "mark": {"type": "circle", "color": "black", "size": 22, "opacity": 1}, "encoding": {"x": {"field": "x", "type": "quantitative", "scale": {"domain": [0.39, 4.56], "nice": false, "zero": false}, "axis": {"orient": "bottom", "title": "Total testosterone (nmol/l)", "values": [0.5,1,1.5,2,2.5,3,3.5,4,4.5], "format": ".1f", "tickCount": 50}}, "y": {"field": "y", "type": "quantitative", "scale": {"domain": [9.2, 68.8], "nice": false, "zero": false}, "axis": {"orient": "left", "title": "Body fat content (%)", "values": [10,20,30,40,50,60], "tickCount": 50}}}},
         {"data": {"name": "f_wbf"}, "mark": {"type": "line", "color": "#f08c98", "strokeWidth": 0.8}, "encoding": {"x": {"field": "x", "type": "quantitative", "axis": null}, "y": {"field": "lo", "type": "quantitative", "axis": null}}},
         {"data": {"name": "f_wbf"}, "mark": {"type": "line", "color": "#f08c98", "strokeWidth": 0.8}, "encoding": {"x": {"field": "x", "type": "quantitative", "axis": null}, "y": {"field": "hi", "type": "quantitative", "axis": null}}},
         {"data": {"name": "f_wbf"}, "mark": {"type": "line", "color": "#e41f2d", "strokeWidth": 1.8}, "encoding": {"x": {"field": "x", "type": "quantitative", "axis": null}, "y": {"field": "fit", "type": "quantitative", "axis": null}}},
         {"data": {"values": [{}]}, "mark": {"type": "text", "align": "right", "baseline": "alphabetic", "fontSize": 21, "color": "black"}, "encoding": {"x": {"datum": 4.52, "type": "quantitative", "axis": null}, "y": {"datum": 9.9, "type": "quantitative", "axis": null}, "text": {"value": "p<0.0001"}}}
       ]},

      {"width": 407, "height": 165, "data": {"values": [{"t": "insulin sensitivity"}]}, "mark": {"type": "text", "align": "left", "fontSize": 25.5, "fontWeight": "bold", "color": "black", "dy": -5}, "encoding": {"text": {"field": "t"}}},
      {"width": 222, "height": 165, "view": {"stroke": "#b3b3b3"}, "resolve": {"axis": {"x": "independent", "y": "independent"}},
       "layer": [
         {"data": {"name": "f_mis"}, "mark": {"type": "area", "color": "#f6b3bb", "opacity": 0.55}, "encoding": {"x": {"field": "x", "type": "quantitative", "axis": {"orient": "bottom", "values": [2.5,7.5,12.5,17.5,22.5,27.5,32.5], "labels": false, "domain": false, "title": null, "tickSize": 2.5, "tickCount": 50}}, "y": {"field": "lo", "type": "quantitative", "axis": {"orient": "left", "values": [-5,5,15,25,35,45,55], "labels": false, "domain": false, "title": null, "tickSize": 2.5, "tickCount": 50}}, "y2": {"field": "hi"}}},
         {"data": {"name": "p_mis"}, "mark": {"type": "circle", "color": "black", "size": 22, "opacity": 1}, "encoding": {"x": {"field": "x", "type": "quantitative", "scale": {"domain": [0, 37], "nice": false, "zero": false}, "axis": {"orient": "bottom", "title": "Total testosterone (nmol/l)", "values": [0,5,10,15,20,25,30,35], "tickCount": 50}}, "y": {"field": "y", "type": "quantitative", "scale": {"domain": [-6.6, 62.4], "nice": false, "zero": false}, "axis": {"orient": "left", "title": "ISI-Matsuda", "values": [0,10,20,30,40,50,60], "tickCount": 50}}}},
         {"data": {"name": "f_mis"}, "mark": {"type": "line", "color": "#f08c98", "strokeWidth": 0.8}, "encoding": {"x": {"field": "x", "type": "quantitative", "axis": null}, "y": {"field": "lo", "type": "quantitative", "axis": null}}},
         {"data": {"name": "f_mis"}, "mark": {"type": "line", "color": "#f08c98", "strokeWidth": 0.8}, "encoding": {"x": {"field": "x", "type": "quantitative", "axis": null}, "y": {"field": "hi", "type": "quantitative", "axis": null}}},
         {"data": {"name": "f_mis"}, "mark": {"type": "line", "color": "#e41f2d", "strokeWidth": 1.8}, "encoding": {"x": {"field": "x", "type": "quantitative", "axis": null}, "y": {"field": "fit", "type": "quantitative", "axis": null}}},
         {"data": {"values": [{}]}, "mark": {"type": "text", "align": "right", "baseline": "top", "fontSize": 21, "color": "black"}, "encoding": {"x": {"datum": 36.4, "type": "quantitative", "axis": null}, "y": {"datum": 60.7, "type": "quantitative", "axis": null}, "text": {"value": "p=0.0025"}}}
       ]},
      {"width": 222, "height": 165, "view": {"stroke": "#b3b3b3"}, "resolve": {"axis": {"x": "independent", "y": "independent"}},
       "layer": [
         {"data": {"name": "f_wis"}, "mark": {"type": "area", "color": "#f6b3bb", "opacity": 0.55}, "encoding": {"x": {"field": "x", "type": "quantitative", "axis": {"orient": "bottom", "values": [0.25,0.75,1.25,1.75,2.25,2.75,3.25,3.75,4.25], "labels": false, "domain": false, "title": null, "tickSize": 2.5, "tickCount": 50}}, "y": {"field": "lo", "type": "quantitative", "axis": {"orient": "left", "values": [-5,5,15,25,35,45,55], "labels": false, "domain": false, "title": null, "tickSize": 2.5, "tickCount": 50}}, "y2": {"field": "hi"}}},
         {"data": {"name": "p_wis"}, "mark": {"type": "circle", "color": "black", "size": 22, "opacity": 1}, "encoding": {"x": {"field": "x", "type": "quantitative", "scale": {"domain": [-0.25, 4.5], "nice": false, "zero": false}, "axis": {"orient": "bottom", "title": "Total testosterone (nmol/l)", "values": [0,0.5,1,1.5,2,2.5,3,3.5,4,4.5], "format": ".1f", "tickCount": 50, "labelFontSize": 12.5}}, "y": {"field": "y", "type": "quantitative", "scale": {"domain": [-8.2, 56.9], "nice": false, "zero": false}, "axis": {"orient": "left", "title": "ISI-Matsuda", "values": [0,10,20,30,40,50], "tickCount": 50}}}},
         {"data": {"name": "f_wis"}, "mark": {"type": "line", "color": "#f08c98", "strokeWidth": 0.8}, "encoding": {"x": {"field": "x", "type": "quantitative", "axis": null}, "y": {"field": "lo", "type": "quantitative", "axis": null}}},
         {"data": {"name": "f_wis"}, "mark": {"type": "line", "color": "#f08c98", "strokeWidth": 0.8}, "encoding": {"x": {"field": "x", "type": "quantitative", "axis": null}, "y": {"field": "hi", "type": "quantitative", "axis": null}}},
         {"data": {"name": "f_wis"}, "mark": {"type": "line", "color": "#e41f2d", "strokeWidth": 1.8}, "encoding": {"x": {"field": "x", "type": "quantitative", "axis": null}, "y": {"field": "fit", "type": "quantitative", "axis": null}}},
         {"data": {"values": [{}]}, "mark": {"type": "text", "align": "right", "baseline": "top", "fontSize": 21, "color": "black"}, "encoding": {"x": {"datum": 4.41, "type": "quantitative", "axis": null}, "y": {"datum": 55.8, "type": "quantitative", "axis": null}, "text": {"value": "p=0.0108"}}}
       ]},

      {"width": 407, "height": 165, "data": {"values": [{"t": "insulin secretion"}]}, "mark": {"type": "text", "align": "left", "fontSize": 25.5, "fontWeight": "bold", "color": "black", "dy": -0.5}, "encoding": {"text": {"field": "t"}}},
      {"width": 222, "height": 165, "view": {"stroke": "#b3b3b3"}, "resolve": {"axis": {"x": "independent", "y": "independent"}},
       "layer": [
         {"data": {"name": "f_mau"}, "mark": {"type": "area", "color": "#f6b3bb", "opacity": 0.55}, "encoding": {"x": {"field": "x", "type": "quantitative", "axis": {"orient": "bottom", "values": [2.5,7.5,12.5,17.5,22.5,27.5,32.5], "labels": false, "domain": false, "title": null, "tickSize": 2.5, "tickCount": 50}}, "y": {"field": "lo", "type": "quantitative", "axis": {"orient": "left", "values": [50,150,250,350,450,550,650,750], "labels": false, "domain": false, "title": null, "tickSize": 2.5, "tickCount": 50}}, "y2": {"field": "hi"}}},
         {"data": {"name": "p_mau"}, "mark": {"type": "circle", "color": "black", "size": 22, "opacity": 1}, "encoding": {"x": {"field": "x", "type": "quantitative", "scale": {"domain": [0, 37], "nice": false, "zero": false}, "axis": {"orient": "bottom", "title": "Total testosterone (nmol/l)", "values": [0,5,10,15,20,25,30,35], "tickCount": 50}}, "y": {"field": "y", "type": "quantitative", "scale": {"domain": [0, 800], "nice": false, "zero": false}, "axis": {"orient": "left", "title": "AUC C-pep / AUC Glc", "values": [0,100,200,300,400,500,600,700,800], "tickCount": 50}}}},
         {"data": {"name": "f_mau"}, "mark": {"type": "line", "color": "#f08c98", "strokeWidth": 0.8}, "encoding": {"x": {"field": "x", "type": "quantitative", "axis": null}, "y": {"field": "lo", "type": "quantitative", "axis": null}}},
         {"data": {"name": "f_mau"}, "mark": {"type": "line", "color": "#f08c98", "strokeWidth": 0.8}, "encoding": {"x": {"field": "x", "type": "quantitative", "axis": null}, "y": {"field": "hi", "type": "quantitative", "axis": null}}},
         {"data": {"name": "f_mau"}, "mark": {"type": "line", "color": "#e41f2d", "strokeWidth": 1.8}, "encoding": {"x": {"field": "x", "type": "quantitative", "axis": null}, "y": {"field": "fit", "type": "quantitative", "axis": null}}},
         {"data": {"values": [{}]}, "mark": {"type": "text", "align": "right", "baseline": "top", "fontSize": 21, "color": "black"}, "encoding": {"x": {"datum": 36.2, "type": "quantitative", "axis": null}, "y": {"datum": 790, "type": "quantitative", "axis": null}, "text": {"value": "p=0.077"}}}
       ]},
      {"width": 222, "height": 165, "view": {"stroke": "#b3b3b3"}, "resolve": {"axis": {"x": "independent", "y": "independent"}},
       "layer": [
         {"data": {"name": "f_wau"}, "mark": {"type": "area", "color": "#f6b3bb", "opacity": 0.55}, "encoding": {"x": {"field": "x", "type": "quantitative", "axis": {"orient": "bottom", "values": [0.25,0.75,1.25,1.75,2.25,2.75,3.25,3.75,4.25], "labels": false, "domain": false, "title": null, "tickSize": 2.5, "tickCount": 50}}, "y": {"field": "lo", "type": "quantitative", "axis": {"orient": "left", "values": [50,150,250,350,450,550,650,750], "labels": false, "domain": false, "title": null, "tickSize": 2.5, "tickCount": 50}}, "y2": {"field": "hi"}}},
         {"data": {"name": "p_wau"}, "mark": {"type": "circle", "color": "black", "size": 22, "opacity": 1}, "encoding": {"x": {"field": "x", "type": "quantitative", "scale": {"domain": [0, 4.52], "nice": false, "zero": false}, "axis": {"orient": "bottom", "title": "Total testosterone (nmol/l)", "values": [0,0.5,1,1.5,2,2.5,3,3.5,4,4.5], "format": ".1f", "tickCount": 50}}, "y": {"field": "y", "type": "quantitative", "scale": {"domain": [0, 846], "nice": false, "zero": false}, "axis": {"orient": "left", "title": "AUC C-pep / AUC Glc", "values": [0,100,200,300,400,500,600,700,800], "tickCount": 50}}}},
         {"data": {"name": "f_wau"}, "mark": {"type": "line", "color": "#f08c98", "strokeWidth": 0.8}, "encoding": {"x": {"field": "x", "type": "quantitative", "axis": null}, "y": {"field": "lo", "type": "quantitative", "axis": null}}},
         {"data": {"name": "f_wau"}, "mark": {"type": "line", "color": "#f08c98", "strokeWidth": 0.8}, "encoding": {"x": {"field": "x", "type": "quantitative", "axis": null}, "y": {"field": "hi", "type": "quantitative", "axis": null}}},
         {"data": {"name": "f_wau"}, "mark": {"type": "line", "color": "#e41f2d", "strokeWidth": 1.8}, "encoding": {"x": {"field": "x", "type": "quantitative", "axis": null}, "y": {"field": "fit", "type": "quantitative", "axis": null}}},
         {"data": {"values": [{}]}, "mark": {"type": "text", "align": "right", "baseline": "top", "fontSize": 21, "color": "black"}, "encoding": {"x": {"datum": 4.42, "type": "quantitative", "axis": null}, "y": {"datum": 841, "type": "quantitative", "axis": null}, "text": {"value": "p=0.48"}}}
       ]},

      {"width": 1, "height": 99, "data": {"name": "cap"},
       "layer": [
         {"transform": [{"filter": "datum.line == 1"}], "mark": {"type": "text", "align": "left", "fontSize": 18, "fontWeight": "bold", "color": "#2b2b2b"}, "encoding": {"y": {"field": "line", "type": "ordinal", "axis": null, "scale": {"type": "point", "padding": 0.48}}, "text": {"value": "FIGURE 1 |"}}},
         {"transform": [{"filter": "datum.line == 1"}], "mark": {"type": "text", "align": "left", "fontSize": 18, "color": "#333", "dx": 100}, "encoding": {"y": {"field": "line", "type": "ordinal", "axis": null}, "text": {"field": "t"}}},
         {"transform": [{"filter": "datum.line > 1"}], "mark": {"type": "text", "align": "left", "fontSize": 18, "color": "#333"}, "encoding": {"y": {"field": "line", "type": "ordinal", "axis": null}, "text": {"field": "t"}}}
       ]}
     ]}
  ]
}
